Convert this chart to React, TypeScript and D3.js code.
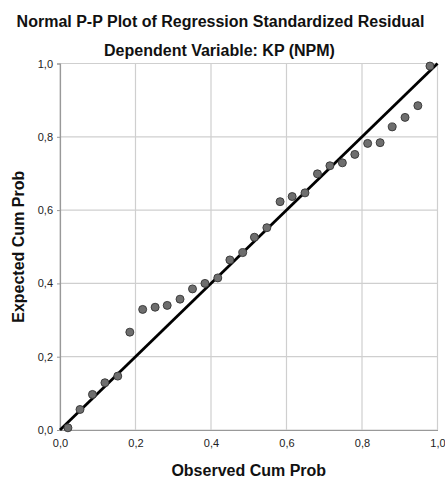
import { useRef, useEffect } from 'react';
import * as d3 from 'd3';

// observed vs expected cumulative probabilities
const observed = [
  0.021, 0.053, 0.086, 0.119, 0.153, 0.185, 0.219, 0.252, 0.284, 0.318,
  0.351, 0.384, 0.418, 0.450, 0.484, 0.515, 0.548, 0.583, 0.615, 0.649,
  0.682, 0.715, 0.748, 0.781, 0.815, 0.848, 0.880, 0.914, 0.948, 0.980,
];
const expected = [
  0.006, 0.056, 0.097, 0.129, 0.147, 0.267, 0.329, 0.335, 0.340, 0.357,
  0.385, 0.400, 0.415, 0.464, 0.484, 0.526, 0.552, 0.623, 0.637, 0.647,
  0.699, 0.721, 0.729, 0.752, 0.782, 0.784, 0.827, 0.853, 0.885, 0.993,
];
const ticks = [0, 0.2, 0.4, 0.6, 0.8, 1.0];
const tickLabels = ['0,0', '0,2', '0,4', '0,6', '0,8', '1,0'];

const W = 445;
const H = 478;
const FONT = '"Liberation Sans", Arial, sans-serif';

export default function App() {
  const svgRef = useRef<SVGSVGElement>(null);

  useEffect(() => {
    if (!svgRef.current) return;
    const svg = d3.select(svgRef.current);
    svg.selectAll('*').remove();

    const margin = { top: 63.5, right: 7.5, bottom: 48, left: 60 };
    const x = d3.scaleLinear().domain([0, 1]).range([margin.left, W - margin.right]);
    const y = d3.scaleLinear().domain([0, 1]).range([H - margin.bottom, margin.top]);

    svg.append('rect').attr('width', W).attr('height', H).attr('fill', '#fff');

    // titles
    svg.append('text')
      .attr('x', W / 2 - 2).attr('y', 27)
      .attr('text-anchor', 'middle')
      .attr('font-family', FONT).attr('font-size', 16).attr('font-weight', 'bold')
      .attr('fill', '#111')
      .text('Normal P-P Plot of Regression Standardized Residual');
    svg.append('text')
      .attr('x', W / 2 - 3).attr('y', 55.5)
      .attr('text-anchor', 'middle')
      .attr('font-family', FONT).attr('font-size', 16).attr('font-weight', 'bold')
      .attr('fill', '#111')
      .text('Dependent Variable: KP (NPM)');

    // grid
    const g = svg.append('g');
    ticks.forEach(t => {
      g.append('line')
        .attr('x1', x(t)).attr('x2', x(t))
        .attr('y1', y(0)).attr('y2', y(1))
        .attr('stroke', '#cfcfcf').attr('stroke-width', 1.2);
      g.append('line')
        .attr('x1', x(0)).attr('x2', x(1))
        .attr('y1', y(t)).attr('y2', y(t))
        .attr('stroke', '#cfcfcf').attr('stroke-width', 1.2);
    });

    // axes
    const yAxis = d3.axisLeft(y).tickValues(ticks)
      .tickFormat((_, i) => tickLabels[i]).tickSize(3).tickPadding(4);
    const xAxis = d3.axisBottom(x).tickValues(ticks)
      .tickFormat((_, i) => tickLabels[i]).tickSize(0).tickPadding(9);

    const ya = g.append('g').attr('transform', `translate(${margin.left},0)`).call(yAxis);
    const xa = g.append('g').attr('transform', `translate(0,${H - margin.bottom})`).call(xAxis);
    [ya, xa].forEach(a => {
      a.select('.domain').attr('stroke', '#999').attr('stroke-width', 1.2);
      a.selectAll('.tick line').attr('stroke', '#999');
      a.selectAll('.tick text')
        .attr('font-family', FONT).attr('font-size', 11).attr('fill', '#222');
    });

    // reference diagonal
    g.append('line')
      .attr('x1', x(0)).attr('y1', y(0))
      .attr('x2', x(1)).attr('y2', y(1))
      .attr('stroke', '#000').attr('stroke-width', 2.8);

    // points
    g.selectAll('.pt')
      .data(observed.map((o, i) => [o, expected[i]]))
      .enter()
      .append('circle')
      .attr('class', 'pt')
      .attr('cx', d => x(d[0]))
      .attr('cy', d => y(d[1]))
      .attr('r', 4)
      .attr('fill', '#6e6e6e')
      .attr('stroke', '#333')
      .attr('stroke-width', 0.9);

    // axis titles
    svg.append('text')
      .attr('x', (x(0) + x(1)) / 2).attr('y', 476)
      .attr('text-anchor', 'middle')
      .attr('font-family', FONT).attr('font-size', 16).attr('font-weight', 'bold')
      .attr('fill', '#111')
      .text('Observed Cum Prob');
    svg.append('text')
      .attr('transform', `translate(23.5,${(y(0) + y(1)) / 2}) rotate(-90)`)
      .attr('text-anchor', 'middle')
      .attr('font-family', FONT).attr('font-size', 16).attr('font-weight', 'bold')
      .attr('fill', '#111')
      .text('Expected Cum Prob');
  }, []);

  return (
    <svg ref={svgRef} width={W} height={H}
      style={{ position: 'absolute', left: 0, top: 0, display: 'block' }} />
  );
}
